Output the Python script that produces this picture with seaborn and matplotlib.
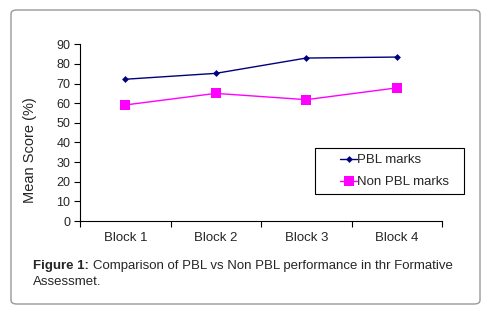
import pandas as pd
import seaborn as sns
import matplotlib.pyplot as plt
from matplotlib.patches import FancyBboxPatch, Rectangle
from matplotlib.ticker import FixedLocator

# data
blocks = ['Block 1', 'Block 2', 'Block 3', 'Block 4']
pbl = [72.2, 75.2, 83.0, 83.5]
non_pbl = [59.1, 65.0, 61.8, 67.8]
series_names = ['PBL marks', 'Non PBL marks']

df = pd.DataFrame({
    'block': blocks * 2,
    'score': pbl + non_pbl,
    'series': [series_names[0]] * 4 + [series_names[1]] * 4,
})
df['x'] = df['block'].map({b: i for i, b in enumerate(blocks)})

sns.set_style('white')
plt.rcParams['font.family'] = ['Liberation Sans', 'DejaVu Sans']

fig = plt.figure(figsize=(4.88, 3.2), dpi=100)
fig.patch.set_facecolor('white')

# rounded grey frame around chart + caption
frame = FancyBboxPatch((11 / 488, 1 - 304 / 320), 469 / 488, 294 / 320,
                       boxstyle='round,pad=0,rounding_size=0.012',
                       transform=fig.transFigure, facecolor='none',
                       edgecolor='#999999', linewidth=1.0, zorder=-1)
fig.patches.append(frame)

ax = fig.add_axes([80 / 488, 1 - 221 / 320, 362 / 488, 176.7 / 320])
ax.set_facecolor('none')

sns.lineplot(data=df, x='x', y='score', hue='series', style='series',
             hue_order=series_names, style_order=series_names,
             palette={'PBL marks': '#000080', 'Non PBL marks': '#FF00FF'},
             markers={'PBL marks': 'D', 'Non PBL marks': 's'},
             dashes=False, linewidth=1.0, ax=ax, legend=False)

# marker sizes differ between series
for line, ms in zip(ax.lines, [3.5, 6.5]):
    line.set_markersize(ms)
    line.set_markeredgewidth(0)

ax.set_xlim(-0.5, 3.5)
ax.set_ylim(0, 90)
ax.set_yticks(range(0, 91, 10))
ax.set_xticks(range(4))
ax.set_xticklabels(blocks, fontsize=9.5)
ax.xaxis.set_minor_locator(FixedLocator([-0.5, 0.5, 1.5, 2.5, 3.5]))
ax.tick_params(axis='x', which='major', bottom=True, length=0, pad=8)
ax.tick_params(axis='x', which='minor', bottom=True, length=4, width=0.8, direction='out', color='black')
ax.tick_params(axis='y', left=True, length=4, width=0.8, direction='out', color='black', labelsize=9, pad=3)
for s in ['top', 'right']:
    ax.spines[s].set_visible(False)
for s in ['left', 'bottom']:
    ax.spines[s].set_color('black')
    ax.spines[s].set_linewidth(0.8)
ax.set_xlabel('')
ax.set_ylabel('Mean Score (%)', fontsize=10.5)
ax.yaxis.set_label_coords(-0.119, 0.40)

# legend box like the original
box = Rectangle((315 / 488, 1 - 194 / 320), 149 / 488, 46 / 320,
                transform=fig.transFigure, facecolor='white',
                edgecolor='black', linewidth=0.8, zorder=2)
fig.patches.append(box)
handles = [plt.Line2D([], [], color='#000080', marker='D', markersize=3.5, markeredgewidth=0, lw=1.0),
           plt.Line2D([], [], color='#FF00FF', marker='s', markersize=6.5, markeredgewidth=0, lw=1.0)]
leg = fig.legend(handles, series_names, loc='upper left',
                 bbox_to_anchor=(336 / 488, 1 - 150 / 320), fontsize=9.5,
                 frameon=False, handlelength=1.3, handletextpad=0.0,
                 labelspacing=0.75, borderpad=0.3, borderaxespad=0)
leg.set_zorder(3)

# caption
fig.text(33 / 488, 1 - 266 / 320, 'Figure 1:', fontsize=9.5, fontweight='bold', va='center')
fig.text(93 / 488, 1 - 266 / 320, 'Comparison of PBL vs Non PBL performance in thr Formative',
         fontsize=9.5, va='center')
fig.text(33 / 488, 1 - 282 / 320, 'Assessmet.', fontsize=9.5, va='center')

fig.savefig('out.png', dpi=100, facecolor='white')
